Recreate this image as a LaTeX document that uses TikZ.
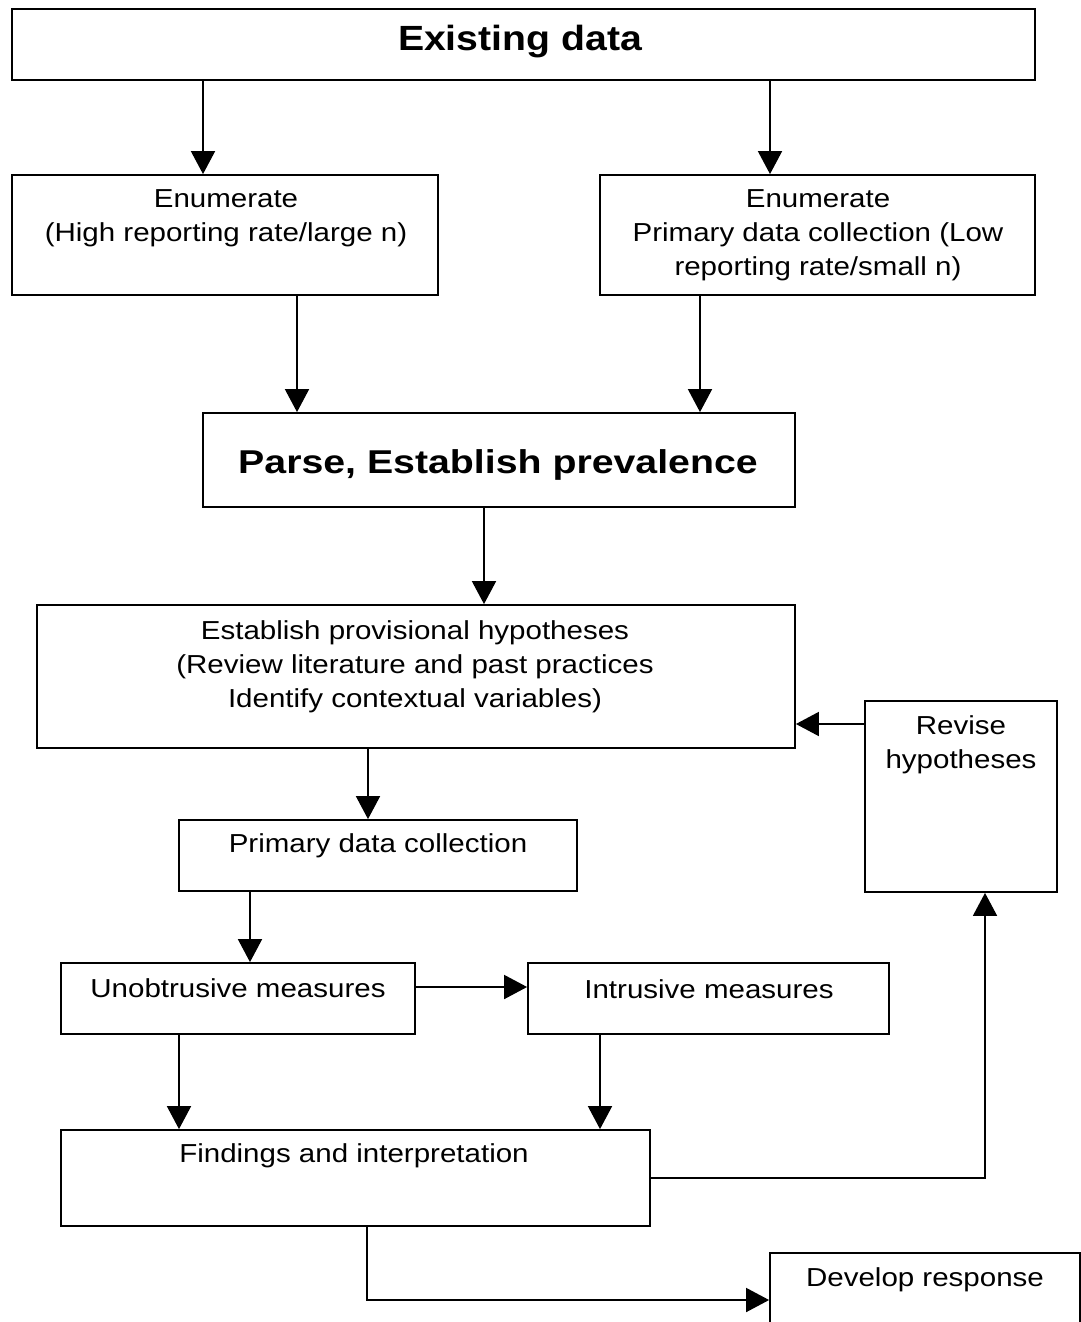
\documentclass[tikz,border=0pt]{standalone}
\usepackage{fontspec}
\setmainfont{Liberation Sans}
\newfontfamily\bodyfont[FakeStretch=1.135]{Liberation Sans}
\newfontfamily\exfont[FakeStretch=1.12]{Liberation Sans}
\newfontfamily\parsefont[FakeStretch=1.19]{Liberation Sans}
\usetikzlibrary{arrows.meta}
\begin{document}
\begin{tikzpicture}[x=1pt,y=-1pt,
  box/.style={draw=black,line width=1.8pt,rectangle,inner sep=0pt,fill=white},
  txt/.style={inner sep=0pt,align=center,font=\bodyfont\fontsize{26}{34}\selectfont},
  extxt/.style={inner sep=0pt,align=center,font=\exfont\fontsize{35}{40}\selectfont\bfseries},
  parsetxt/.style={inner sep=0pt,align=center,font=\parsefont\fontsize{33}{40}\selectfont\bfseries},
  arr/.style={line width=1.8pt,-{Triangle[width=24pt,length=23pt]}},
  line join=miter]
\clip (0,0) rectangle (1081,1322);
\fill[white] (0,0) rectangle (1081,1322);
% boxes
\node[box,minimum width=1023pt,minimum height=71pt] (ex) at (523.5,44.5) {};
\node[box,minimum width=426pt,minimum height=120pt] (en1) at (225,235) {};
\node[box,minimum width=435pt,minimum height=120pt] (en2) at (817.5,235) {};
\node[box,minimum width=592pt,minimum height=94pt] (parse) at (499,460) {};
\node[box,minimum width=758pt,minimum height=143pt] (est) at (416,676.5) {};
\node[box,minimum width=192pt,minimum height=191pt] (rev) at (961,796.5) {};
\node[box,minimum width=398pt,minimum height=71pt] (pdc) at (378,855.5) {};
\node[box,minimum width=354pt,minimum height=71pt] (uno) at (238,998.5) {};
\node[box,minimum width=361pt,minimum height=71pt] (intr) at (708.5,998.5) {};
\node[box,minimum width=589pt,minimum height=96pt] (find) at (355.5,1178) {};
\node[box,minimum width=310pt,minimum height=100pt] (dev) at (925,1303) {};
% texts
\node[extxt] (tex) at (520,42) {Existing data};
\node[txt] (ten1) at (226,218) {Enumerate\\(High reporting rate/large n)};
\node[txt] (ten2) at (818,235) {Enumerate\\Primary data collection (Low\\reporting rate/small n)};
\node[parsetxt] (tparse) at (498,465) {Parse, Establish prevalence};
\node[txt] (test) at (415,667) {Establish provisional hypotheses\\(Review literature and past practices\\Identify contextual variables)};
\node[txt] (trev) at (961,745) {Revise\\hypotheses};
\node[txt] (tpdc) at (378,846) {Primary data collection};
\node[txt] (tuno) at (238,988) {Unobtrusive measures};
\node[txt] (tintr) at (709,989) {Intrusive measures};
\node[txt] (tfind) at (354,1156) {Findings and interpretation};
\node[txt] (tdev) at (925,1280) {Develop response};
% connectors
\draw[arr] (ex.south -| 203,0) -- (en1.north -| 203,0);
\draw[arr] (ex.south -| 770,0) -- (en2.north -| 770,0);
\draw[arr] (en1.south -| 297,0) -- (parse.north -| 297,0);
\draw[arr] (en2.south -| 700,0) -- (parse.north -| 700,0);
\draw[arr] (parse.south -| 484,0) -- (est.north -| 484,0);
\draw[arr] (rev.west |- 0,724) -- (est.east |- 0,724);
\draw[arr] (est.south -| 368,0) -- (pdc.north -| 368,0);
\draw[arr] (pdc.south -| 250,0) -- (uno.north -| 250,0);
\draw[arr] (uno.east |- 0,987) -- (intr.west |- 0,987);
\draw[arr] (uno.south -| 179,0) -- (find.north -| 179,0);
\draw[arr] (intr.south -| 600,0) -- (find.north -| 600,0);
\draw[arr] (find.east) -| (rev.south -| 985,0);
\draw[arr] (find.south -| 367,0) |- (dev.west |- 0,1300);
\end{tikzpicture}
\end{document}
